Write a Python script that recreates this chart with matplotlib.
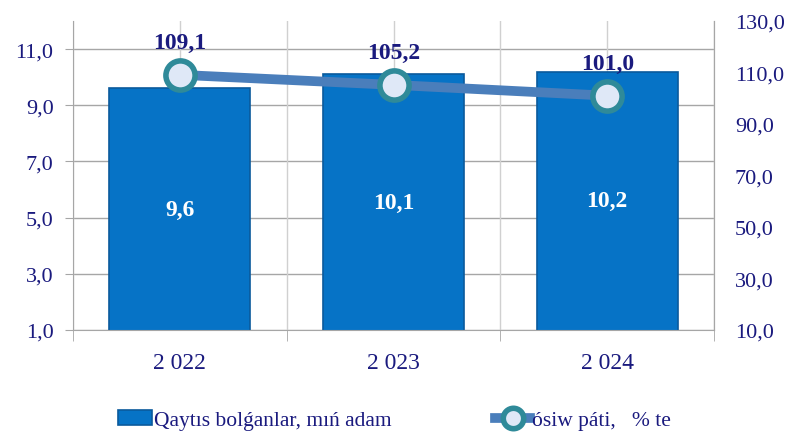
import matplotlib.pyplot as plt
import numpy as np

# Dados do gráfico
anos = ['2 022', '2 023', '2 024']
qaytis = [9.6, 10.1, 10.2]
osiw_pati = [109.1, 105.2, 101.0]
rotulo_barras = 'Qaytıs bolǵanlar, mıń adam'
rotulo_linha = 'ósiw páti,   % te'

azul_texto = '#1a1a7e'
plt.rcParams['font.family'] = ['Liberation Serif', 'DejaVu Serif']

fig = plt.figure(figsize=(7.91, 4.35), dpi=100)
ax = fig.add_axes([0.0923, 0.239, 0.8104, 0.7104])
x = np.arange(len(anos))

# Grade
for yy in [1, 3, 5, 7, 9, 11]:
    ax.axhline(yy, color='#a6a6a6', linewidth=1, zorder=0)
for xx in np.arange(-0.5, 3.0, 0.5):
    ax.axvline(xx, color='#d0d0d0', linewidth=1, zorder=0)

barras = ax.bar(x, qaytis, width=0.66, color='#0673c6', edgecolor='#0a5a9c',
                linewidth=1.2, zorder=2, label=rotulo_barras)
ax.set_ylim(1, 12)
ax.set_xlim(-0.5, 2.5)
ax.set_yticks([1, 3, 5, 7, 9, 11])
ax.set_yticklabels([f'{v:.1f}'.replace('.', ',') for v in [1, 3, 5, 7, 9, 11]])
ax.set_xticks(x)
ax.set_xticklabels(anos)
ax.tick_params(axis='x', length=0, pad=16, labelsize=17, labelcolor=azul_texto)
ax.set_xticks([-0.5, 0.5, 1.5, 2.5], minor=True)
ax.tick_params(axis='x', which='minor', length=8, color='#a6a6a6')
ax.tick_params(axis='y', length=6, color='#a6a6a6', labelsize=16, labelcolor=azul_texto, pad=8)
ax.spines['top'].set_visible(False)
for lado in ['left', 'bottom', 'right']:
    ax.spines[lado].set_color('#a6a6a6')

for xi, v in zip(x, qaytis):
    ax.text(xi, (1 + v) / 2, f'{v:.1f}'.replace('.', ','), ha='center', va='center',
            color='white', fontsize=17, fontweight='bold', zorder=3)

ax2 = ax.twinx()
linha, = ax2.plot(x, osiw_pati, color='#4a7ebb', linewidth=7, marker='o', markersize=21,
                  markerfacecolor='#dfe8f7', markeredgecolor='#2f8a99', markeredgewidth=4,
                  label=rotulo_linha, zorder=4)
ax2.set_ylim(10, 130)
ax2.set_yticks(np.arange(10, 131, 20))
ax2.set_yticklabels([f'{v:.1f}'.replace('.', ',') for v in np.arange(10, 131, 20)])
ax2.tick_params(axis='y', length=0, labelsize=16, labelcolor=azul_texto, pad=15)
for lado in ['top', 'left', 'bottom']:
    ax2.spines[lado].set_visible(False)
ax2.spines['right'].set_color('#a6a6a6')

for xi, v in zip(x, osiw_pati):
    ax2.annotate(f'{v:.1f}'.replace('.', ','), (xi, v), xytext=(0, 23), textcoords='offset points',
                 ha='center', va='center', color=azul_texto, fontsize=17, fontweight='bold')

fig.legend(handles=[barras, linha], loc='center left', bbox_to_anchor=(0.149, 0.032),
           ncol=2, frameon=False, fontsize=15.5, labelcolor=azul_texto,
           borderpad=0, borderaxespad=0,
           handlelength=1.6, handletextpad=0.1, columnspacing=4.8, markerscale=0.7)

plt.savefig('out.png', dpi=100)
